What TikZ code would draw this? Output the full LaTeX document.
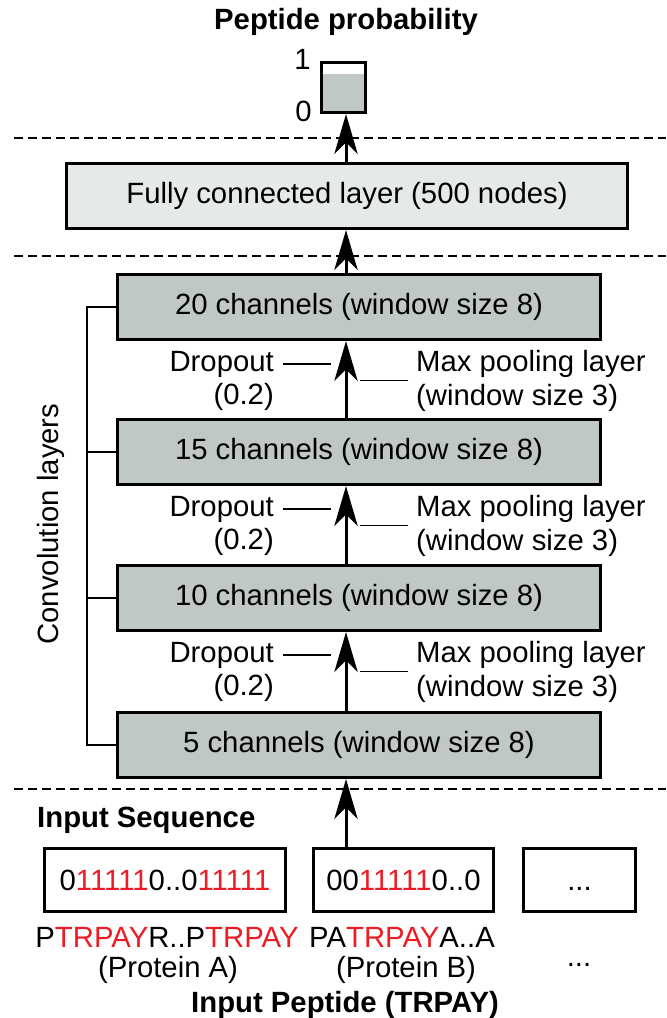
\documentclass[tikz,border=0pt]{standalone}
\usepackage{fontspec}
\setmainfont{Liberation Sans}
\usepackage{tikz}
\usetikzlibrary{arrows.meta}
\definecolor{convgray}{RGB}{191,200,198}
\definecolor{fcgray}{RGB}{230,233,233}
\definecolor{seqred}{RGB}{237,28,36}
\newcommand{\labelfont}{\fontsize{25}{30}\selectfont}
\newcommand{\boxline}{1mm}
\newcommand{\thinline}{0.5mm}
\newcommand{\rd}[1]{\textcolor{seqred}{#1}}
\tikzset{
  txt/.style={inner sep=0pt, font=\labelfont},
  heading/.style={inner sep=0pt, font=\labelfont\bfseries},
  layer/.style={draw, line width=\boxline, fill=convgray, minimum width=144.8mm, minimum height=19.4mm, inner sep=0pt, font=\labelfont},
  dense/.style={draw, line width=\boxline, fill=fcgray, minimum width=168.2mm, minimum height=19.4mm, inner sep=0pt, font=\labelfont},
  seqbox/.style={draw, line width=\boxline, fill=white, minimum width=72.2mm, minimum height=18.8mm, inner sep=0pt, font=\labelfont},
  probbox/.style={draw, line width=\boxline, minimum width=13.1mm, minimum height=14.9mm, inner sep=0pt,
    path picture={\fill[convgray] (path picture bounding box.south west) rectangle ([yshift=-3.4mm]path picture bounding box.north east);}},
  flow/.style={line width=0.9mm, -{Stealth[length=12mm, width=7mm, inset=3.5mm]}},
  leader/.style={line width=0.45mm},
  bracket/.style={line width=\thinline},
  divider/.style={line width=0.6mm, dash pattern=on 2.7mm off 1.5mm}
}

\begin{document}
\begin{tikzpicture}[x=0.3mm, y=-0.3mm]
\useasboundingbox (0,0) rectangle (666,1018);
\coordinate (ax) at (346,0);
\coordinate (brk) at (87,0);
%output
\node[heading, anchor=base] (title) at (346,30) {Peptide probability};
\node[probbox] (prob) at (343.5,87.5) {};
\node[txt, anchor=base east] (one) at (311,70) {1};
\node[txt, anchor=base east] (zero) at (312,122) {0};
\draw[divider] (14,138) -- (666,138);
\node[dense] (fc) at (347,196) {Fully connected layer (500 nodes)};
\draw[divider] (14,256) -- (666,256);
%convolution
\node[layer] (conv20) at (359,307) {20 channels (window size 8)};
\node[layer] (conv15) at (359,452) {15 channels (window size 8)};
\node[layer] (conv10) at (359,598) {10 channels (window size 8)};
\node[layer] (conv5) at (359,745) {5 channels (window size 8)};
\draw[divider] (14,789) -- (666,789);
\draw[bracket] (conv20.west) -- (conv20.west -| brk) -- (conv5.west -| brk) -- (conv5.west);
\draw[bracket] (conv15.west) -- (conv15.west -| brk);
\draw[bracket] (conv10.west) -- (conv10.west -| brk);
\node[txt, rotate=90] (convlab) at (51,524) {Convolution layers};
%gap 20-15
\node[txt, anchor=base east] (drop1) at (274,371) {Dropout};
\node[txt, anchor=base east] (rate1) at (274,404) {(0.2)};
\node[txt, anchor=base west] (pool1) at (416,371) {Max pooling layer};
\node[txt, anchor=base west] (win1) at (416,405) {(window size 3)};
\draw[leader] ([xshift=2.7mm]drop1.east) -- ++(48,0);
\draw[leader] ([xshift=-2.4mm, yshift=-0.9mm]pool1.south west) -- ++(-48,0);
%gap 15-10
\node[txt, anchor=base east] (drop2) at (274,516) {Dropout};
\node[txt, anchor=base east] (rate2) at (274,549) {(0.2)};
\node[txt, anchor=base west] (pool2) at (416,516) {Max pooling layer};
\node[txt, anchor=base west] (win2) at (416,550) {(window size 3)};
\draw[leader] ([xshift=2.7mm]drop2.east) -- ++(48,0);
\draw[leader] ([xshift=-2.4mm, yshift=-0.9mm]pool2.south west) -- ++(-48,0);
%gap 10-5
\node[txt, anchor=base east] (drop3) at (274,662) {Dropout};
\node[txt, anchor=base east] (rate3) at (274,695) {(0.2)};
\node[txt, anchor=base west] (pool3) at (416,662) {Max pooling layer};
\node[txt, anchor=base west] (win3) at (416,696) {(window size 3)};
\draw[leader] ([xshift=2.7mm]drop3.east) -- ++(48,0);
\draw[leader] ([xshift=-2.4mm, yshift=-0.9mm]pool3.south west) -- ++(-48,0);
%input
\node[heading, anchor=base west] (inseq) at (37,827) {Input Sequence};
\node[seqbox] (seqA) at (165,880) {0\rd{11111}0..0\rd{11111}};
\node[seqbox, minimum width=53.9mm] (seqB) at (403.5,880) {00\rd{11111}0..0};
\node[seqbox, minimum width=33.5mm] (seqC) at (579.5,880) {\vphantom{0}...};
\node[txt, anchor=base] (protA) at (167,947) {P\rd{TRPAY}R..P\rd{TRPAY}};
\node[txt, anchor=base] (protB) at (402,947) {PA\rd{TRPAY}A..A};
\node[txt, anchor=base] (nameA) at (168,977) {(Protein A)};
\node[txt, anchor=base] (nameB) at (406,977) {(Protein B)};
\node[txt, anchor=base] (more) at (579,966) {...};
\node[heading, anchor=base] (inpep) at (345,1012) {Input Peptide (TRPAY)};
%arrows
\draw[flow] (fc.north -| ax) -- (prob.south -| ax);
\draw[flow] (conv20.north -| ax) -- (fc.south -| ax);
\draw[flow] (conv15.north -| ax) -- (conv20.south -| ax);
\draw[flow] (conv10.north -| ax) -- (conv15.south -| ax);
\draw[flow] (conv5.north -| ax) -- (conv10.south -| ax);
\draw[flow] (seqB.north -| ax) -- (conv5.south -| ax);
\end{tikzpicture}
\end{document}
